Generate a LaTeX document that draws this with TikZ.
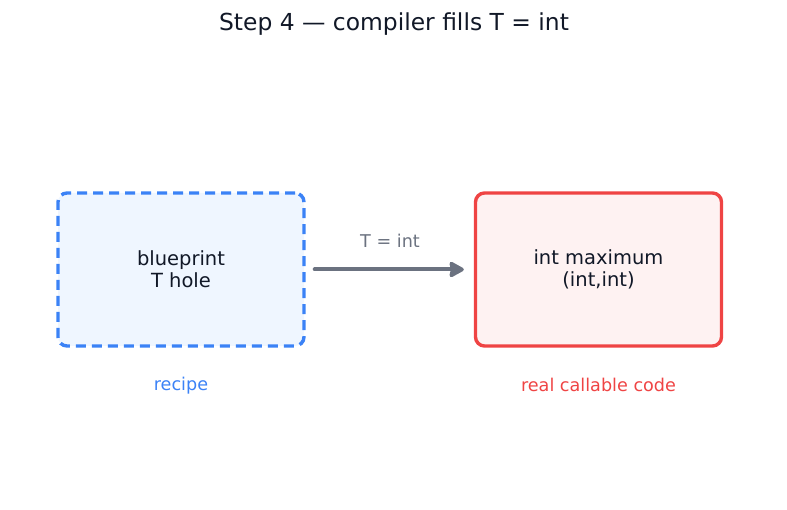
\documentclass[tikz,border=0pt]{standalone}
\usepackage{fontspec}
\setmainfont{DejaVu Sans}
\usetikzlibrary{arrows.meta}
\definecolor{bblue}{HTML}{3B82F6}
\definecolor{bbluefill}{HTML}{EFF6FF}
\definecolor{rred}{HTML}{EF4444}
\definecolor{rredfill}{HTML}{FEF2F2}
\definecolor{ink}{HTML}{111827}
\definecolor{arrgray}{HTML}{6B7280}
\tikzset{
  box/.style={rounded corners=9pt, line width=3.4pt, minimum width=246pt, minimum height=153pt, align=center, text=ink, font=\fontsize{19.5}{22}\selectfont, inner sep=0pt},
  bluebox/.style={box, draw=bblue, fill=bbluefill, dash pattern=on 10pt off 6pt},
  redbox/.style={box, draw=rred, fill=rredfill},
  caption/.style={font=\fontsize{17.6}{20}\selectfont},
  conn/.style={line width=4pt, line cap=round, draw=arrgray, -{Stealth[length=17pt,width=18pt,inset=2pt,round]}}
}
\begin{document}
\begin{tikzpicture}[x=1pt,y=-1pt]
\useasboundingbox (0,0) rectangle (787,510);
\node[font=\fontsize{23.4}{26}\selectfont, text=ink] (title) at (394,24) {Step 4 — compiler fills T = int};
\node[bluebox] (bp) at (181,269.5) {blueprint\\T hole};
\node[redbox] (rc) at (598.5,269.5) {int maximum\\(int,int)};
\draw[conn] ([xshift=9pt]bp.east) -- ([xshift=-10pt]rc.west);
\node[caption, text=arrgray] (lbl) at (390,241) {T = int};
\node[caption, text=bblue] (recipe) at (181,386) {recipe};
\node[caption, text=rred] (real) at (598.5,385) {real callable code};
\end{tikzpicture}
\end{document}
